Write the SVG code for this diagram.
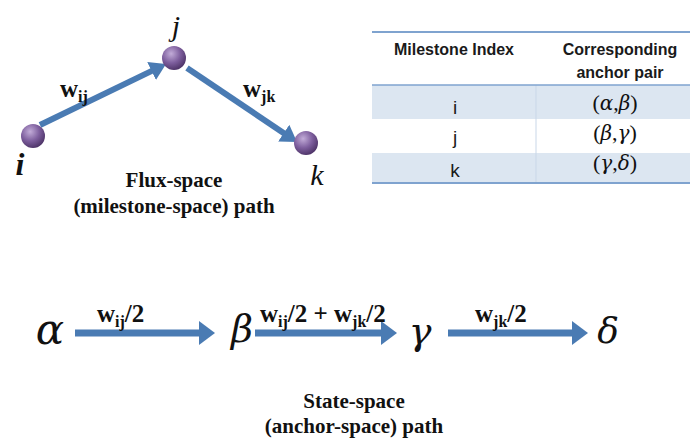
<svg xmlns="http://www.w3.org/2000/svg" width="692" height="439" viewBox="0 0 692 439">
<style>
.serif{font-family:"Liberation Serif","Times New Roman",serif;fill:#111}
.greek{font-family:"DejaVu Serif","Liberation Serif",serif;font-style:italic;fill:#111}
.b{font-weight:bold}
.it{font-style:italic}
.sans{font-family:"Liberation Sans",Arial,sans-serif;fill:#1a1a1a}
.shaft{stroke:#4a7bb3;fill:none}
.sub{font-size:16px}
</style>
<defs>
<radialGradient id="ball" cx="0.38" cy="0.32" r="0.7">
<stop offset="0" stop-color="#c2acd8"/>
<stop offset="0.55" stop-color="#7e5f9e"/>
<stop offset="1" stop-color="#4e3468"/>
</radialGradient>
<marker id="ah" viewBox="0 0 16 20" refX="2" refY="10" markerWidth="16" markerHeight="20" markerUnits="userSpaceOnUse" orient="auto">
<path d="M0,0 L16,10 L0,20 z" fill="#4a7bb3"/>
</marker>
<marker id="ah2" viewBox="0 0 16 24" refX="2" refY="12" markerWidth="16" markerHeight="24" markerUnits="userSpaceOnUse" orient="auto">
<path d="M0,0 L16,12 L0,24 z" fill="#4a7bb3"/>
</marker>
</defs>

<g id="connectors">
<line class="shaft" x1="40" y1="125" x2="153.4" y2="70.1" stroke-width="6" marker-end="url(#ah)"/>
<line class="shaft" x1="187" y1="68" x2="285.4" y2="134.2" stroke-width="6" marker-end="url(#ah)"/>
<line class="shaft" x1="75" y1="333" x2="201" y2="333" stroke-width="7" marker-end="url(#ah2)"/>
<line class="shaft" x1="255" y1="333" x2="383" y2="333" stroke-width="7" marker-end="url(#ah2)"/>
<line class="shaft" x1="448" y1="333" x2="574" y2="333" stroke-width="7" marker-end="url(#ah2)"/>
</g>

<g id="node-i">
<circle cx="33" cy="136" r="12" fill="url(#ball)"/>
<text class="serif b it" x="20" y="175" font-size="32" text-anchor="middle">i</text>
</g>
<g id="node-j">
<circle cx="174" cy="58" r="12" fill="url(#ball)"/>
<text class="serif it" x="176" y="36" font-size="30" text-anchor="middle">j</text>
</g>
<g id="node-k">
<circle cx="306" cy="143" r="12" fill="url(#ball)"/>
<text class="serif it" x="317" y="185" font-size="30" text-anchor="middle">k</text>
</g>

<g id="labels-top">
<text class="serif b" x="60" y="97" font-size="25">w<tspan class="sub" dy="5">ij</tspan></text>
<text class="serif b" x="243" y="97" font-size="25">w<tspan class="sub" dy="5">jk</tspan></text>
<text class="serif b" x="174" y="187" font-size="21" text-anchor="middle">Flux-space</text>
<text class="serif b" x="174" y="213" font-size="21" text-anchor="middle">(milestone-space) path</text>
</g>

<g id="table">
<rect x="372" y="85" width="318" height="34" fill="#dce6f1"/>
<rect x="372" y="153" width="318" height="30" fill="#dce6f1"/>
<line x1="536" y1="85" x2="536" y2="183" stroke="#c9d7e8" stroke-width="1"/>
<line x1="372" y1="32" x2="690" y2="32" stroke="#7fa3cf" stroke-width="2"/>
<line x1="372" y1="85" x2="690" y2="85" stroke="#7fa3cf" stroke-width="1.5"/>
<line x1="372" y1="183" x2="690" y2="183" stroke="#7fa3cf" stroke-width="2"/>
<text class="sans b" x="454" y="55" font-size="16" text-anchor="middle">Milestone Index</text>
<text class="sans b" x="620" y="55" font-size="16" text-anchor="middle">Corresponding</text>
<text class="sans b" x="620" y="78" font-size="16" text-anchor="middle">anchor pair</text>
<text class="sans" x="455" y="114" font-size="19" text-anchor="middle">i</text>
<text class="sans" x="455" y="144" font-size="19" text-anchor="middle">j</text>
<text class="sans" x="455" y="177" font-size="19" text-anchor="middle">k</text>
<text class="serif" x="615" y="110" font-size="22" text-anchor="middle">(<tspan class="greek" font-size="20">α</tspan>,<tspan class="greek" font-size="20">β</tspan>)</text>
<text class="serif" x="615" y="140" font-size="22" text-anchor="middle">(<tspan class="greek" font-size="20">β</tspan>,<tspan class="greek" font-size="20">γ</tspan>)</text>
<text class="serif" x="615" y="170" font-size="22" text-anchor="middle">(<tspan class="greek" font-size="20">γ</tspan>,<tspan class="greek" font-size="20">δ</tspan>)</text>
</g>

<g id="node-alpha"><text class="greek" x="50" y="344" font-size="42" text-anchor="middle">α</text></g>
<g id="node-beta"><text class="greek" x="242" y="342" font-size="38" text-anchor="middle">β</text></g>
<g id="node-gamma"><text class="greek" x="420" y="344" font-size="38" text-anchor="middle">γ</text></g>
<g id="node-delta"><text class="greek" x="608" y="343" font-size="36" text-anchor="middle">δ</text></g>

<g id="labels-bottom">
<text class="serif b" x="97" y="322" font-size="25">w<tspan class="sub" dy="5">ij</tspan><tspan dy="-5">/2</tspan></text>
<text class="serif b" x="260" y="322" font-size="25">w<tspan class="sub" dy="5">ij</tspan><tspan dy="-5">/2 + w</tspan><tspan class="sub" dy="5">jk</tspan><tspan dy="-5">/2</tspan></text>
<text class="serif b" x="475" y="322" font-size="25">w<tspan class="sub" dy="5">jk</tspan><tspan dy="-5">/2</tspan></text>
<text class="serif b" x="354" y="408" font-size="21" text-anchor="middle">State-space</text>
<text class="serif b" x="354" y="433" font-size="21" text-anchor="middle">(anchor-space) path</text>
</g>
</svg>
